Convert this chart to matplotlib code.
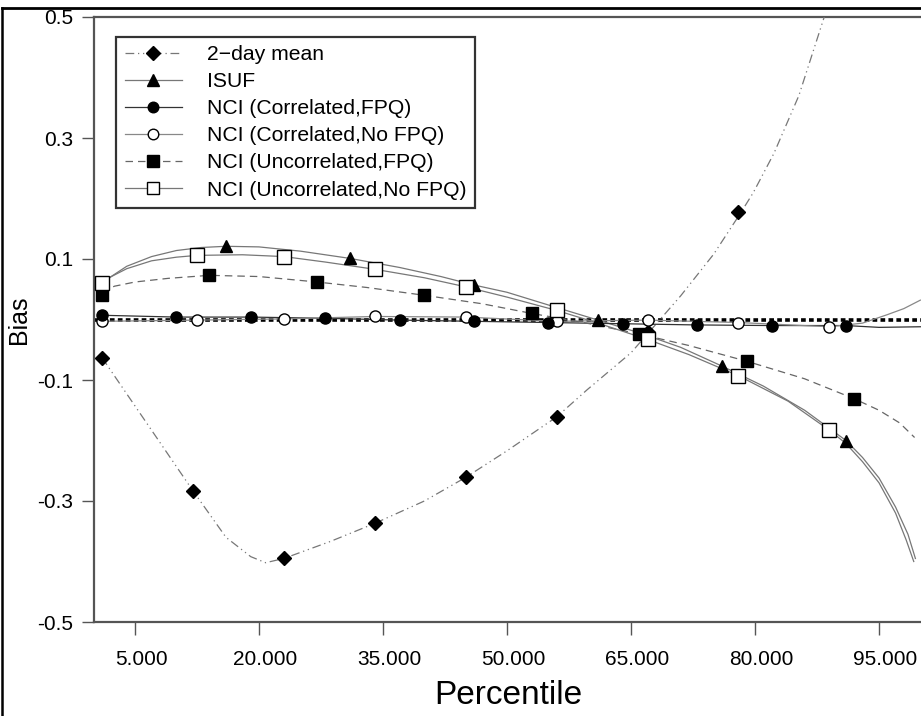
import matplotlib
matplotlib.use("Agg")
import matplotlib.pyplot as plt
import matplotlib.transforms as mtransforms
from matplotlib.lines import Line2D
from matplotlib.ticker import FixedLocator

plt.rcParams['font.family'] = ['Liberation Sans', 'DejaVu Sans']

# ---- data ----
# 2-day mean (diamonds)
day2_mx = [1, 12, 23, 34, 45, 56, 67, 78]
day2_my = [-0.063, -0.283, -0.395, -0.337, -0.261, -0.161, -0.02, 0.177]
day2_cx = [1, 5, 8, 12, 16, 19, 20.8, 23, 28.6, 34, 40, 45, 50, 56, 59.7, 65, 71,
           75, 78.3, 79.8, 82.3, 85.3, 88.3, 90]
day2_cy = [-0.063, -0.143, -0.203, -0.283, -0.36, -0.392, -0.402, -0.395, -0.367,
           -0.337, -0.30, -0.261, -0.217, -0.161, -0.116, -0.055, 0.039, 0.108,
           0.177, 0.21, 0.275, 0.37, 0.497, 0.57]

# ISUF (triangles)
isuf_mx = [1, 16, 31, 46, 61, 76, 91]
isuf_my = [0.06, 0.121, 0.101, 0.057, -0.001, -0.077, -0.200]
isuf_cx = [1, 2, 4, 7, 10, 13, 16, 20, 25, 31, 37, 42, 46, 50, 55, 61, 66, 71, 76,
           81, 86, 91, 93, 95, 97, 98.5, 99.4]
isuf_cy = [0.06, 0.07, 0.088, 0.104, 0.114, 0.119, 0.121, 0.120, 0.113, 0.101,
           0.086, 0.071, 0.057, 0.045, 0.024, -0.001, -0.022, -0.046, -0.077,
           -0.11, -0.15, -0.200, -0.228, -0.262, -0.31, -0.355, -0.395]

# NCI correlated, FPQ (filled circles)
cfpq_mx = [1, 10, 19, 28, 37, 46, 55, 64, 73, 82, 91]
cfpq_my = [0.007, 0.004, 0.004, 0.002, -0.001, -0.003, -0.005, -0.007, -0.009,
           -0.010, -0.010]
cfpq_cx = [1, 10, 19, 28, 37, 46, 55, 64, 73, 82, 91, 95, 100]
cfpq_cy = [0.007, 0.004, 0.004, 0.002, -0.001, -0.003, -0.005, -0.007, -0.009,
           -0.010, -0.010, -0.013, -0.012]

# NCI correlated, no FPQ (open circles)
cnof_mx = [1, 12.5, 23, 34, 45, 56, 67, 78, 89]
cnof_my = [-0.003, -0.001, 0.001, 0.005, 0.004, -0.003, -0.001, -0.005, -0.012]
cnof_cx = [1, 12.5, 23, 34, 45, 56, 67, 78, 89, 93, 96, 98, 100]
cnof_cy = [-0.003, -0.001, 0.001, 0.005, 0.004, -0.003, -0.001, -0.005, -0.012,
           -0.006, 0.008, 0.018, 0.032]

# NCI uncorrelated, FPQ (filled squares)
ufpq_mx = [1, 14, 27, 40, 53, 66, 79, 92]
ufpq_my = [0.040, 0.073, 0.062, 0.040, 0.010, -0.024, -0.069, -0.131]
ufpq_cx = [1, 2.5, 5, 9, 14, 20, 27, 33, 40, 47, 53, 60, 66, 72, 79, 86, 92, 95,
           97.5, 99.3]
ufpq_cy = [0.045, 0.055, 0.062, 0.068, 0.073, 0.071, 0.062, 0.053, 0.040, 0.026,
           0.010, -0.007, -0.024, -0.043, -0.069, -0.098, -0.131, -0.15, -0.171,
           -0.195]

# NCI uncorrelated, no FPQ (open squares)
unof_mx = [1, 12.5, 23, 34, 45, 56, 67, 78, 89]
unof_my = [0.06, 0.106, 0.104, 0.083, 0.054, 0.015, -0.033, -0.093, -0.183]
unof_cx = [1, 2, 4, 7, 10, 12.5, 18, 23, 28, 34, 40, 45, 50, 56, 61, 67, 72, 78,
           84, 89, 91, 93, 95, 97, 98.3, 99.2]
unof_cy = [0.06, 0.07, 0.084, 0.097, 0.103, 0.106, 0.107, 0.104, 0.095, 0.083,
           0.069, 0.054, 0.037, 0.015, -0.006, -0.033, -0.058, -0.093, -0.135,
           -0.183, -0.205, -0.235, -0.27, -0.32, -0.365, -0.40]

labels = ["2\u2212day mean", "ISUF", "NCI (Correlated,FPQ)",
          "NCI (Correlated,No FPQ)", "NCI (Uncorrelated,FPQ)",
          "NCI (Uncorrelated,No FPQ)"]
xticks = [5, 20, 35, 50, 65, 80, 95]
xticklabels = ["5.000", "20.000", "35.000", "50.000", "65.000", "80.000", "95.000"]
yticks = [-0.5, -0.3, -0.1, 0.1, 0.3, 0.5]
yticklabels = ["-0.5", "-0.3", "-0.1", "0.1", "0.3", "0.5"]

fig = plt.figure(figsize=(9.21, 7.16), dpi=100)
ax = fig.add_axes([93.7 / 921, 94 / 716, (921 - 93.7) / 921 + 0.002, 605 / 716])

# zero reference line
ax.axhline(0, color='black', lw=2.6, ls=(0, (1.3, 0.9)), zorder=2)

styles = [
    dict(cx=day2_cx, cy=day2_cy, mx=day2_mx, my=day2_my, ls=(0, (7, 3, 1, 3, 1, 3)),
         lc='#777777', marker='D', ms=7, mfc='black'),
    dict(cx=isuf_cx, cy=isuf_cy, mx=isuf_mx, my=isuf_my, ls='-',
         lc='#777777', marker='^', ms=8.5, mfc='black'),
    dict(cx=cfpq_cx, cy=cfpq_cy, mx=cfpq_mx, my=cfpq_my, ls='-',
         lc='#333333', marker='o', ms=8, mfc='black'),
    dict(cx=cnof_cx, cy=cnof_cy, mx=cnof_mx, my=cnof_my, ls='-',
         lc='#888888', marker='o', ms=8, mfc='white'),
    dict(cx=ufpq_cx, cy=ufpq_cy, mx=ufpq_mx, my=ufpq_my, ls=(0, (6, 4)),
         lc='#666666', marker='s', ms=9, mfc='black'),
    dict(cx=unof_cx, cy=unof_cy, mx=unof_mx, my=unof_my, ls='-',
         lc='#777777', marker='s', ms=9.5, mfc='white'),
]
mz = [4, 5, 7, 6, 5, 6]

handles = []
for s, lab, z in zip(styles, labels, mz):
    ax.plot(s['cx'], s['cy'], color=s['lc'], ls=s['ls'], lw=0.9, zorder=3)
    ax.plot(s['mx'], s['my'], ls='none', marker=s['marker'], ms=s['ms'],
            mfc=s['mfc'], mec='black', mew=1.0, zorder=z)
    handles.append(Line2D([], [], color=s['lc'], ls=s['ls'], lw=0.9,
                          marker=s['marker'], ms=s['ms'] * 0.95, mfc=s['mfc'],
                          mec='black', mew=1.0))

ax.set_xlim(0, 100.3)
ax.set_ylim(-0.5, 0.5)
ax.xaxis.set_major_locator(FixedLocator(xticks))
ax.set_xticklabels(xticklabels)
ax.yaxis.set_major_locator(FixedLocator(yticks))
ax.set_yticklabels(yticklabels)
ax.tick_params(axis='both', direction='out', length=9, width=1, color='#555555',
               labelsize=15)
ax.tick_params(axis='x', pad=11)
ax.tick_params(axis='y', pad=6)
offset = mtransforms.ScaledTranslation(6 / 100, 0, fig.dpi_scale_trans)
for lbl in ax.get_xticklabels():
    lbl.set_transform(lbl.get_transform() + offset)

for side in ['left', 'bottom', 'top']:
    ax.spines[side].set_color('#555555')
    ax.spines[side].set_linewidth(1.6)
ax.spines['right'].set_visible(False)

ax.set_xlabel("Percentile", fontsize=24, labelpad=8)
ax.set_ylabel("Bias", fontsize=18, labelpad=4)

leg = ax.legend(handles, labels, loc='upper left', bbox_to_anchor=(0.027, 0.967),
                borderaxespad=0, fontsize=15.2, frameon=True, fancybox=False,
                edgecolor='black', handlelength=2.7, handletextpad=1.2,
                labelspacing=0.38, borderpad=0.4)
leg.get_frame().set_linewidth(1.6)

# outer frame of the figure
fig.add_artist(Line2D([0.0027, 0.0027], [0, 0.9895], color='black', lw=1.8,
                      transform=fig.transFigure))
fig.add_artist(Line2D([0.0027, 1], [0.9895, 0.9895], color='black', lw=2.0,
                      transform=fig.transFigure))

fig.savefig('out.png', dpi=100)
